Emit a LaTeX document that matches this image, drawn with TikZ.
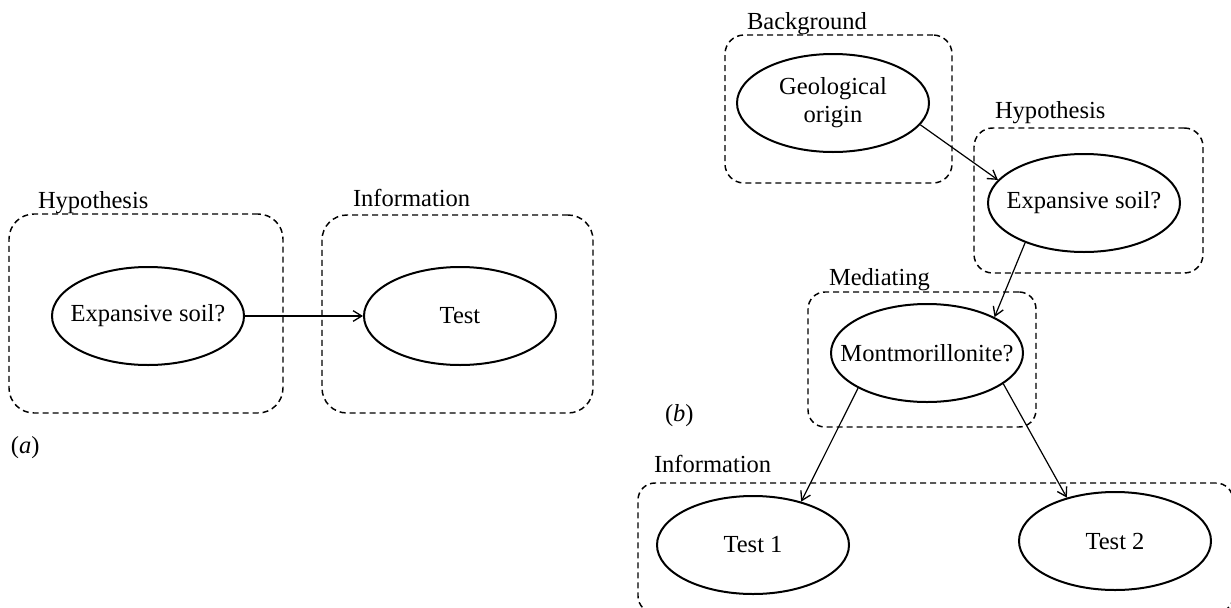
\documentclass[tikz,border=0pt]{standalone}
\usepackage{fontspec}
\setmainfont{Liberation Serif}
\usetikzlibrary{shapes.geometric,arrows.meta}

\tikzset{
  grp/.style={draw, rectangle, dash pattern=on 4.5pt off 3pt, line width=1.1pt,
              inner sep=0pt, outer sep=0pt},
  var/.style={draw, ellipse, line width=1.5pt, minimum width=144pt,
              minimum height=73.5pt, inner sep=0pt},
  lbl/.style={anchor=base west, inner sep=0pt, outer sep=0pt},
  link/.style={-{Straight Barb[length=6.5pt,width=8pt,line width=1pt]}, line width=0.9pt},
}
\newcommand{\ctr}[1]{\makebox[0pt]{#1}}

\begin{document}
\begin{tikzpicture}[x=0.75pt, y=-0.75pt,
  every node/.append style={font=\fontsize{18.4pt}{21pt}\selectfont}]
  \useasboundingbox (0,0) rectangle (1231,607);
  \fill[white] (0,0) rectangle (1231,607);
  \clip (0,0) rectangle (1231,607);

  % ---------- panel (a) ----------
  \node[grp, minimum width=205.5pt, minimum height=149.25pt, rounded corners=18.75pt]
    (hypA) at (146,313.5) {};
  \node[grp, minimum width=203.25pt, minimum height=148.5pt, rounded corners=18.75pt]
    (infA) at (457.5,314) {};
  \node[lbl] (hypAlbl) at (38,208) {Hypothesis};
  \node[lbl] (infAlbl) at (353,206) {Information};

  \node[var] (expA) at (148,316) {\ctr{Expansive soil?}};
  \node[var] (testA) at (460,316) {\ctr{Test}};
  \draw[link] (expA.east) -- (testA.west);

  \node[lbl] (capA) at (11,453) {(\textit{a})};

  % ---------- panel (b) ----------
  \node[grp, minimum width=170.25pt, minimum height=111pt, rounded corners=14.25pt]
    (bgB) at (838.5,109) {};
  \node[grp, minimum width=171.75pt, minimum height=108.75pt, rounded corners=14pt]
    (hypB) at (1088.5,200.5) {};
  \node[grp, minimum width=171pt, minimum height=101.25pt, rounded corners=12.75pt]
    (medB) at (922,359.5) {};
  \node[grp, minimum width=446.25pt, minimum height=97.5pt, rounded corners=12.75pt]
    (infB) at (935.5,548) {};

  \node[lbl] (bgBlbl) at (747,29) {Background};
  \node[lbl] (hypBlbl) at (995,118) {Hypothesis};
  \node[lbl] (medBlbl) at (829,285) {Mediating};
  \node[lbl] (infBlbl) at (654,472) {Information};

  \node[var] (geo) at (833,103)
    {\ctr{\begin{tabular}{@{}c@{}}Geological\\origin\end{tabular}}};
  \node[var] (expB) at (1084,203) {\ctr{Expansive soil?}};
  \node[var] (mont) at (927,353) {\ctr{Montmorillonite?}};
  \node[var] (tst1) at (753,545) {\ctr{Test 1}};
  \node[var] (tst2) at (1115,541) {\ctr{Test 2}};

  \draw[link] (geo.-14) -- (expB.165);
  \draw[link] (expB.214.5) -- (mont.28);
  \draw[link] (mont.207.5) -- (tst1.42);
  \draw[link] (mont.-22) -- (tst2.138);

  \node[lbl] (capB) at (665,421) {(\textit{b})};
\end{tikzpicture}
\end{document}
